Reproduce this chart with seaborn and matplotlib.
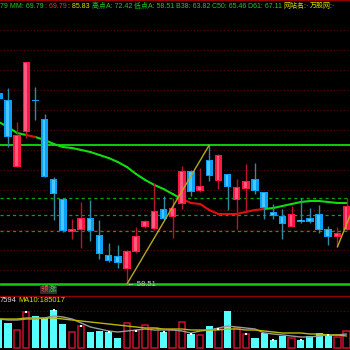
import numpy as np
import pandas as pd
import matplotlib
matplotlib.use("Agg")
import matplotlib.pyplot as plt
import seaborn as sns
from matplotlib import font_manager

# ---------------- data ----------------
opens = [77.62, 76.92, 70.22, 73.72, 76.97, 75.02, 69.02, 67.02, 63.72, 63.92,
         65.12, 63.42, 61.42, 61.32, 60.02, 61.72, 64.22, 64.02, 66.02, 65.22,
         66.52, 69.82, 67.82, 70.92, 68.82, 69.52, 66.92, 68.02, 69.02, 67.72,
         65.72, 65.32, 64.22, 64.87, 65.12, 65.52, 64.02, 63.22, 63.92]
closes = [77.02, 73.22, 73.42, 80.72, 76.82, 69.22, 67.52, 63.82, 64.02, 65.12,
          63.82, 61.52, 60.82, 60.62, 61.82, 63.32, 64.82, 65.82, 65.02, 66.12,
          69.82, 67.72, 68.32, 69.32, 71.42, 68.22, 68.22, 68.82, 67.82, 66.12,
          65.32, 64.52, 65.52, 64.77, 64.72, 63.92, 63.22, 63.62, 66.32]
highs = [78.12, 78.12, 74.72, 80.72, 78.22, 75.52, 69.22, 67.12, 65.02, 66.72,
         66.92, 64.92, 62.62, 62.42, 61.92, 64.22, 64.92, 68.62, 67.32, 67.12,
         70.32, 69.92, 70.12, 72.42, 71.52, 69.52, 69.02, 70.52, 70.62, 67.72,
         66.52, 66.02, 66.32, 67.12, 66.12, 66.42, 64.32, 64.22, 67.12]
lows = [76.82, 72.22, 70.22, 73.12, 74.92, 69.22, 64.92, 63.72, 63.02, 62.12,
        62.82, 61.02, 60.72, 60.12, 58.51, 61.62, 64.12, 63.92, 64.92, 63.12,
        66.02, 67.32, 67.72, 68.82, 68.02, 65.92, 64.02, 65.72, 67.52, 65.02,
        65.02, 63.02, 64.22, 64.62, 64.62, 63.62, 62.42, 62.22, 63.92]
volumes = [446600, 385000, 277200, 554400, 492800, 462000, 585200, 369600, 246400, 338800,
           246400, 261800, 246400, 154000, 385000, 261800, 354200, 308000, 246400, 277200,
           400400, 215600, 200200, 338800, 292600, 569800, 308000, 215600, 154000, 231000,
           123200, 184800, 154000, 123200, 184800, 231000, 200200, 169400, 261800]
ma_price = [74.72, 74.22, 73.62, 73.42, 73.22, 72.92, 72.52, 72.22, 72.12, 71.92,
            71.72, 71.42, 71.12, 70.72, 70.22, 69.52, 68.92, 68.42, 68.02, 67.52,
            67.02, 66.62, 66.52, 65.92, 65.52, 65.52, 65.52, 65.72, 65.92, 66.02,
            66.12, 66.32, 66.52, 66.72, 66.82, 66.82, 66.72, 66.62, 66.62]
ma_trend = ["dn", "dn", "dn", "up", "dn", "dn", "dn", "dn", "dn", "dn",
            "dn", "dn", "dn", "dn", "dn", "dn", "dn", "dn", "dn", "dn",
            "up", "up", "up", "up", "up", "up", "up", "up", "up", "dn",
            "dn", "dn", "dn", "dn", "dn", "dn", "dn", "dn", "dn"]
vol_ma5 = [446600, 431200, 431200, 446600, 446600, 462000, 492800, 477400, 446600, 385000,
           323400, 292600, 261800, 246400, 261800, 277200, 292600, 277200, 277200, 277200,
           261800, 231000, 261800, 277200, 308000, 338800, 323400, 308000, 292600, 231000,
           215600, 200200, 184800, 169400, 169400, 184800, 200200, 200200, 215600]
vol_ma10 = [446600, 446600, 446600, 462000, 462000, 462000, 462000, 446600, 431200, 415800,
            400400, 385000, 369600, 354200, 338800, 323400, 308000, 308000, 292600, 292600,
            292600, 277200, 277200, 277200, 277200, 292600, 292600, 277200, 277200, 261800,
            246400, 231000, 231000, 231000, 215600, 215600, 200200, 200200, 185017]
high_a = 72.42
low_a = 58.51
fib_levels = [63.82, 65.46, 67.11]
zig_idx = [14, 23]
zig_price = [58.51, 72.42]
zig2_idx = [37, 38.4]
zig2_price = [62.22, 65.4]
marker_idx = [3, 6, 9, 12, 15, 18, 21, 24, 27, 30, 33, 36]

header = [("79 MM: 69.79", "green"), (": 69.79", "red"), (": 85.83", "yellow"),
          ("高点A: 72.42", "green"), ("低点A: 58.51", "green"), ("B38: 63.82", "green"),
          ("C50: 65.46", "green"), ("D61: 67.11", "green"), ("网站名:·", "yellow"),
          ("万股网:·", "yellow")]
vol_labels = [("7594", "white"), ("MA10:185017", "yellow")]

# ---------------- style ----------------
sns.set_style("dark")
installed = {f.name for f in font_manager.fontManager.ttflist}
latin = [f for f in ["Liberation Sans Narrow", "Liberation Sans"] if f in installed]
FAM = latin + ['Noto Sans CJK SC', 'DejaVu Sans']
plt.rcParams['font.family'] = FAM
BG = "#000000"
RED_BODY = "#ff1744"
RED_HI = "#ff6a8c"
BLUE_BODY = "#0aa0f5"
BLUE_HI = "#5ad2ff"
RED_WICK = "#b8142e"
BLUE_WICK = "#2e8c9c"
GRID = "#600808"
GREEN_LINE = "#10cc10"
TXT = {"green": "#22cc22", "red": "#ff3030", "yellow": "#dede00", "white": "#e0e0e0"}

fig = plt.figure(figsize=(3.5, 3.5), dpi=100, facecolor=BG)
W = H = 350.0
ax = fig.add_axes([0, 54 / H, 1, 296 / H])
axv = fig.add_axes([0, 0, 1, 54 / H])
for a in (ax, axv):
    a.set_facecolor(BG)
    a.set_xticks([]); a.set_yticks([])
    a.grid(False)
    for s in a.spines.values():
        s.set_visible(False)
    a.set_xlim(0.126, 38.38)

idx = np.arange(len(opens))
ax.set_ylim(57.32, 86.92)
ax.spines['top'].set_visible(True)
ax.spines['top'].set_color("#900000")
ax.spines['top'].set_linewidth(1.0)

# dotted red grid lines
for lv in np.arange(59.92, 84.5, 2.0):
    ax.axhline(lv, color=GRID, lw=0.8, ls=(0, (1, 2)), zorder=1)

# green swing lines & fib levels
ax.axhline(high_a, color=GREEN_LINE, lw=1.4, zorder=2)
ax.axhline(low_a, color=GREEN_LINE, lw=1.8, zorder=2)
for lv in fib_levels:
    ax.axhline(lv, color="#00a800", lw=0.9, ls=(0, (2.5, 2.5)), zorder=2)

# moving-average line, coloured by trend
rows = []
for i in range(len(ma_price) - 1):
    rows.append((i, idx[i], ma_price[i], ma_trend[i]))
    rows.append((i, idx[i + 1], ma_price[i + 1], ma_trend[i]))
ma_df = pd.DataFrame(rows, columns=["seg", "x", "y", "trend"])
sns.lineplot(data=ma_df, x="x", y="y", hue="trend", units="seg", estimator=None,
             palette={"up": "#e01010", "dn": "#10dd10"}, linewidth=1.5,
             legend=False, sort=False, ax=ax, zorder=3, solid_capstyle="round")

# candles
o = np.array(opens); c = np.array(closes)
up = c >= o
bw = 0.82
ax.vlines(idx, lows, highs, colors=np.where(up, RED_WICK, BLUE_WICK), lw=1.0, zorder=4)
bottoms = np.minimum(o, c)
heights = np.maximum(np.abs(c - o), 0.13)
ax.bar(idx, heights, bottom=bottoms, width=bw, color=np.where(up, RED_BODY, BLUE_BODY),
       linewidth=0, zorder=5)
ax.bar(idx - 0.06, np.maximum(heights - 0.2, 0.05), bottom=bottoms + 0.1, width=0.3,
       color=np.where(up, RED_HI, BLUE_HI), linewidth=0, zorder=6, alpha=0.8)

# zig-zag lines
sns.lineplot(x=zig_idx, y=zig_price, color="#b8a820", lw=1.0, ax=ax, zorder=7)
sns.lineplot(x=zig2_idx, y=zig2_price, color="#b8a820", lw=1.0, ax=ax, zorder=7)
ax.text(zig_idx[0] + 0.05, low_a, "← 58.51", color="#c8c8c8", fontsize=5.5,
        va="center", ha="left", zorder=8)

# header text, placed at the reference positions but never overlapping
xpos = [0, 42, 65, 92, 132, 175, 212, 248, 283, 309]
htexts = []
for (t, col), xp in zip(header, xpos):
    htexts.append(fig.text(xp / W, 1 - 6.5 / H, t, color=TXT[col], fontsize=5.0,
                           va="center", ha="left"))
fig.canvas.draw()
r = fig.canvas.get_renderer()
prev_end = -1e9
for t, xp in zip(htexts, xpos):
    bb = t.get_window_extent(r)
    start = max(xp, prev_end + 1.5)
    t.set_x(start / W)
    prev_end = start + bb.width

# label box
fig.text(41 / W, 1 - 289.5 / H, "领", color="#ff5050", fontsize=5.4, va="center", ha="left",
         bbox=dict(boxstyle="square,pad=0.1", fc="#3a2a2a", ec="none"))
fig.text(48.5 / W, 1 - 289.5 / H, "涨", color="#50d050", fontsize=5.4, va="center", ha="left",
         bbox=dict(boxstyle="square,pad=0.1", fc="#2a3a2a", ec="none"))

# ---------------- volume panel ----------------
axv.set_ylim(-30800, 800800)
axv.spines['top'].set_visible(True)
axv.spines['top'].set_color("#900000")
axv.spines['top'].set_linewidth(1.0)
axv.plot([0, 1], [0.722, 0.722], transform=axv.transAxes, color=GRID, lw=0.8, ls=(0, (1, 2)))

vol = np.array(volumes)
axv.bar(idx[~up], vol[~up], width=0.78, color="#55ffff", linewidth=0, zorder=3)
axv.bar(idx[up], vol[up], width=0.7, facecolor="none", edgecolor="#c81030", linewidth=1.1, zorder=3)
sns.lineplot(x=idx, y=vol_ma5, color="#9a9a9a", lw=1.0, ax=axv, zorder=4)
sns.lineplot(x=idx, y=vol_ma10, color="#b8b800", lw=1.0, ax=axv, zorder=4)
axv.scatter(idx[marker_idx], vol[marker_idx], marker="s", s=3, color="white", zorder=5, linewidths=0)

fig.text(0 / W, 1 - 301 / H, vol_labels[0][0], color=TXT[vol_labels[0][1]], fontsize=5.4,
         va="center", ha="left")
fig.text(18 / W, 1 - 301 / H, vol_labels[1][0], color=TXT[vol_labels[1][1]], fontsize=5.4,
         va="center", ha="left")
axv.set_xlabel(""); axv.set_ylabel(""); ax.set_xlabel(""); ax.set_ylabel("")

fig.savefig("out.png", dpi=100, facecolor=BG)
